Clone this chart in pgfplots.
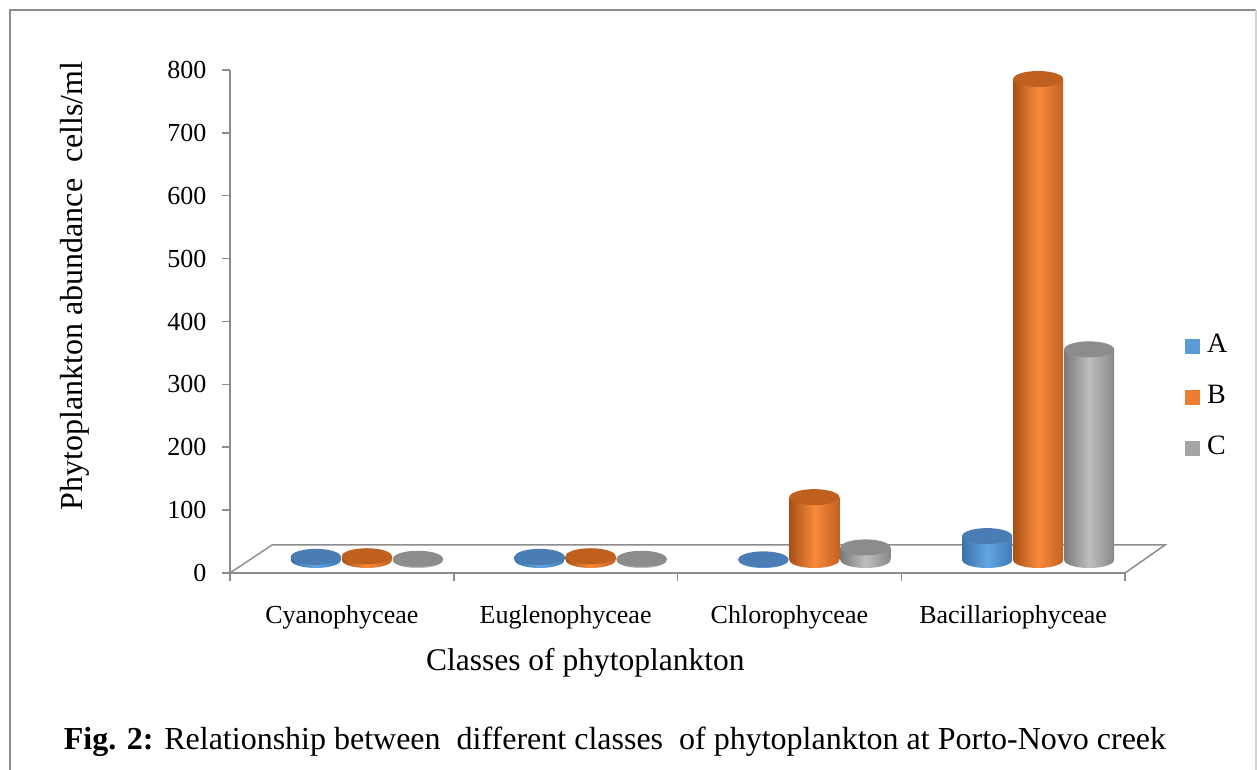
\documentclass[border=0pt]{standalone}
\usepackage{fontspec}
\setmainfont{Liberation Serif}
\usepackage{pgfplots}
\usepackage{pgfplotstable}
\pgfplotsset{compat=1.18}
\usetikzlibrary{shapes.geometric}

\definecolor{cA}{HTML}{5B9BD5}
\definecolor{cB}{HTML}{ED7D31}
\definecolor{cC}{HTML}{A5A5A5}
\definecolor{axgray}{HTML}{8C8C8C}
% cylinder shades
\definecolor{aL}{HTML}{3A72A8}\definecolor{aM}{HTML}{62A5E2}\definecolor{aR}{HTML}{3F7AB8}\definecolor{aT}{HTML}{4A7DB3}
\definecolor{bL}{HTML}{A85016}\definecolor{bM}{HTML}{F88A3C}\definecolor{bR}{HTML}{C3621F}\definecolor{bT}{HTML}{C0601F}
\definecolor{gL}{HTML}{7A7A7A}\definecolor{gM}{HTML}{BEBEBE}\definecolor{gR}{HTML}{888888}\definecolor{gT}{HTML}{8C8C8C}

\pgfplotstableread{
x A B C Z
0 5 6 2 0
1 5 6 2 0
2 1 100 20 0
3 38 765 335 0
}\datatable

\pgfplotsset{
  cyl/.style n args={5}{ybar, bar width=50pt, bar shift=#1, yshift=13pt,
    draw=none, left color=#2, right color=#4, middle color=#3, forget plot,
    nodes near coords={},
    every node near coord/.append style={ellipse, fill=#5, draw=none, xshift=#1,
      minimum width=50pt, minimum height=16pt, inner sep=0pt, anchor=center}},
  cylbase/.style n args={4}{ybar, bar width=50pt, bar shift=#1, yshift=13pt,
    draw=none, fill=none, forget plot,
    nodes near coords={},
    every node near coord/.append style={ellipse, left color=#2, right color=#4, middle color=#3, draw=none, xshift=#1,
      minimum width=50pt, minimum height=16pt, inner sep=0pt, anchor=center}},
  legsq/.style={legend image code/.code={\path[draw=none,fill=none] (0pt,-15pt) rectangle (25pt,15pt); \fill[#1, draw=none] (5pt,-10pt) rectangle (20pt,5pt);}},
}

\begin{document}
\begin{tikzpicture}[x=1pt,y=1pt]
\useasboundingbox (0,0) rectangle (1257,770);
\draw[axgray, line width=2.5pt] (10,-5) -- (10,760) -- (1256,760);
\draw[gray!35, line width=2pt] (1256,760) -- (1256,-5);
\begin{axis}[
  at={(230pt,197pt)}, anchor=south west,
  scale only axis, width=895pt, height=503pt,
  xmin=-0.5, xmax=3.5, ymin=0, ymax=800,
  clip=false,
  axis x line*=bottom, axis y line*=left,
  axis line style={axgray, line width=1.5pt},
  ytick={0,100,...,800},
  tick align=outside,
  major tick length=8pt,
  minor tick length=8pt,
  y tick style={axgray, line width=1.5pt},
  xtick={0,1,2,3},
  xticklabels={Cyanophyceae,Euglenophyceae,Chlorophyceae,Bacillariophyceae},
  major x tick style={draw=none},
  minor xtick={-0.5,0.5,1.5,2.5,3.5},
  minor x tick style={draw=axgray, line width=1.5pt},
  /pgf/number format/assume math mode=true,
  tick label style={font=\fontsize{26}{30}\selectfont},
  yticklabel style={xshift=-12pt},
  xticklabel style={yshift=-21pt},
  ylabel={Phytoplankton abundance\ \ cells/ml},
  ylabel style={at={(axis description cs:-0.173,0.571)}, anchor=center, font=\fontsize{32}{36}\selectfont},
  xlabel={Classes of phytoplankton},
  xlabel style={at={(axis description cs:0.397,-0.179)}, anchor=center, font=\fontsize{31.5}{36}\selectfont},
  legend style={at={(axis description cs:1.0615,0.485)}, anchor=north west, draw=none, fill=none,
    font=\fontsize{28}{32}\selectfont, row sep=21pt, inner sep=0pt},
  legend cell align=left,
]
% 3D floor
\draw[axgray, line width=1.5pt] (axis cs:-0.5,0) -- ++(42pt,28pt) -- ++(893pt,0pt) -- ++(-40pt,-28pt);

\pgfplotsinvokeforeach{0,1,2,3}{
\addplot[cylbase={-26pt}{aL}{aM}{aR}, restrict x to domain=#1:#1] table[x=x,y=Z] {\datatable};
\addplot[cylbase={25pt}{bL}{bM}{bR}, restrict x to domain=#1:#1] table[x=x,y=Z] {\datatable};
\addplot[cylbase={76pt}{gL}{gM}{gR}, restrict x to domain=#1:#1] table[x=x,y=Z] {\datatable};
\addplot[cyl={-26pt}{aL}{aM}{aR}{aT}, restrict x to domain=#1:#1] table[x=x,y=A] {\datatable};
\addplot[cyl={25pt}{bL}{bM}{bR}{bT}, restrict x to domain=#1:#1] table[x=x,y=B] {\datatable};
\addplot[cyl={76pt}{gL}{gM}{gR}{gT}, restrict x to domain=#1:#1] table[x=x,y=C] {\datatable};
}

\addlegendimage{legsq=cA}
\addlegendentry{A}
\addlegendimage{legsq=cB}
\addlegendentry{B}
\addlegendimage{legsq=cC}
\addlegendentry{C}
\end{axis}
\node at (615,28) {\fontsize{32}{38}\selectfont\textbf{Fig. 2:} Relationship between\ \ different classes\ \ of phytoplankton at Porto-Novo creek};
\end{tikzpicture}
\end{document}
